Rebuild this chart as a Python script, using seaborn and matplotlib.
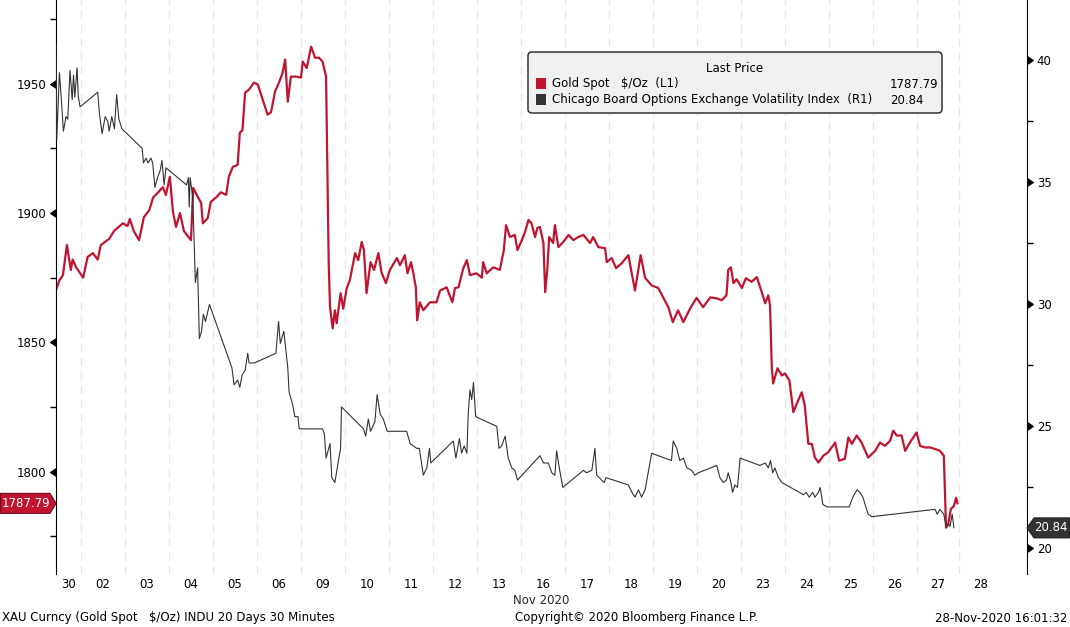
import numpy as np
import pandas as pd
import matplotlib
matplotlib.use("Agg")
import matplotlib.pyplot as plt
import matplotlib.markers as mmarkers
from matplotlib.patches import FancyBboxPatch, Polygon, Rectangle
from matplotlib.transforms import IdentityTransform
import seaborn as sns

# x axis: trading days, Nov 02 runs from 0 to 1 (Oct 30 is cut at the left edge)
day_labels = ['30', '02', '03', '04', '05', '06', '09', '10', '11', '12', '13',
              '16', '17', '18', '19', '20', '23', '24', '25', '26', '27', '28']
day_edges = [-0.57, 0, 1, 2, 3, 4, 5, 6, 7, 8, 9, 10, 11, 12, 13, 14, 15,
             16, 17, 18, 19, 19.96, 20.95]

# Gold spot $/oz (left axis)
gold_t = [-0.57, -0.49, -0.41, -0.32, -0.23, -0.19, -0.11, 0.05, 0.15, 0.27,
          0.38, 0.45, 0.64, 0.75, 0.95, 1.06, 1.11, 1.20, 1.32, 1.43,
          1.55, 1.64, 1.74, 1.86, 1.93, 2.02, 2.09, 2.16, 2.25, 2.34,
          2.50, 2.55, 2.63, 2.73, 2.77, 2.88, 2.95, 3.07, 3.18, 3.30,
          3.36, 3.45, 3.56, 3.61, 3.67, 3.73, 3.82, 3.93, 4.02, 4.13,
          4.24, 4.32, 4.41, 4.50, 4.58, 4.64, 4.70, 4.77, 4.89, 5.00,
          5.04, 5.13, 5.23, 5.32, 5.41, 5.49, 5.57, 5.63, 5.66, 5.72,
          5.77, 5.81, 5.90, 5.96, 6.04, 6.11, 6.23, 6.30, 6.38, 6.43,
          6.49, 6.58, 6.66, 6.76, 6.83, 6.93, 7.02, 7.18, 7.25, 7.36,
          7.42, 7.50, 7.55, 7.61, 7.64, 7.70, 7.78, 7.93, 8.08, 8.16,
          8.31, 8.44, 8.50, 8.58, 8.69, 8.77, 8.84, 8.99, 9.11, 9.14,
          9.22, 9.37, 9.52, 9.61, 9.66, 9.75, 9.86, 9.92, 10.02, 10.09,
          10.17, 10.24, 10.32, 10.37, 10.43, 10.51, 10.55, 10.60, 10.64, 10.73,
          10.77, 10.85, 10.96, 11.08, 11.19, 11.30, 11.42, 11.57, 11.64, 11.76,
          11.91, 11.95, 12.06, 12.16, 12.29, 12.44, 12.59, 12.72, 12.82, 12.97,
          13.12, 13.23, 13.35, 13.45, 13.57, 13.69, 13.84, 13.99, 14.14, 14.30,
          14.45, 14.56, 14.67, 14.71, 14.77, 14.83, 14.90, 15.02, 15.11, 15.24,
          15.36, 15.47, 15.55, 15.62, 15.66, 15.70, 15.73, 15.83, 15.93, 16.00,
          16.10, 16.19, 16.27, 16.38, 16.45, 16.53, 16.61, 16.68, 16.76, 16.87,
          16.98, 17.14, 17.23, 17.36, 17.44, 17.52, 17.63, 17.74, 17.89, 18.05,
          18.16, 18.27, 18.39, 18.46, 18.54, 18.65, 18.73, 18.84, 18.99, 19.07,
          19.18, 19.30, 19.41, 19.52, 19.61, 19.66, 19.71, 19.77, 19.84, 19.89,
          19.92]
gold_px = [1870.2, 1874, 1876, 1887.6, 1878, 1882, 1879, 1875, 1883, 1884.5,
           1882, 1887.6, 1890, 1893, 1896, 1895, 1897.7, 1893, 1889.5, 1898.4,
           1901, 1906, 1907.7, 1910, 1907, 1914, 1900.4, 1894.6, 1900, 1893,
           1889.5, 1909.7, 1907, 1903.9, 1896, 1898, 1904.3, 1906, 1908, 1907,
           1914, 1917.8, 1918.6, 1931, 1932, 1946.5, 1947.7, 1950.4, 1949.6, 1943.8,
           1938, 1939, 1946.9, 1950.4, 1954, 1959.3, 1943, 1952.7, 1952.7, 1952.3,
           1958.5, 1956, 1964.3, 1960, 1960, 1958.5, 1952.7, 1880.6, 1863.6, 1855.4,
           1862.4, 1857.4, 1869, 1863, 1871, 1874, 1884.5, 1881.8, 1888.8, 1885.7,
           1869, 1881, 1878, 1884.5, 1877, 1872.9, 1878, 1882.6, 1879.8, 1883.7,
           1876.7, 1881, 1877, 1871.3, 1858.5, 1865.5, 1862.4, 1865.5, 1865.5, 1870,
           1871.3, 1865.5, 1871, 1871.3, 1878.7, 1881.8, 1876, 1876.7, 1875, 1881,
           1876.7, 1879, 1878, 1885.7, 1895.3, 1890.7, 1891.5, 1885.7, 1889.5, 1892.6,
           1897.3, 1896, 1890.7, 1894.2, 1894.6, 1888.4, 1869.4, 1878.7, 1890.7, 1888.4,
           1895.3, 1886.8, 1888.8, 1891.5, 1889.5, 1890.7, 1891.5, 1888.4, 1890.7, 1886.8,
           1886.4, 1881, 1882.6, 1878.7, 1880.6, 1883.7, 1870, 1883.7, 1875, 1872,
           1871, 1867.4, 1863.6, 1857.8, 1862.4, 1857.8, 1863, 1867.2, 1863.6, 1867.4,
           1867, 1866.3, 1868.2, 1878, 1879, 1872.9, 1874.4, 1871, 1874.8, 1873.4,
           1875.2, 1869.5, 1865.1, 1868.2, 1864.3, 1840.4, 1834.1, 1840, 1837.2, 1838,
           1835.3, 1823, 1826.4, 1830.7, 1825.6, 1810.8, 1810.8, 1805.5, 1803.6, 1806.2,
           1807.5, 1811.3, 1804.3, 1805, 1813.3, 1810.8, 1814, 1811.3, 1805.5, 1808.1,
           1811.3, 1810, 1812, 1815.9, 1814, 1814, 1808.1, 1811.3, 1815.2, 1810,
           1809.4, 1809.4, 1808.8, 1808.1, 1806.2, 1778.4, 1779.8, 1785.6, 1786.8, 1790,
           1787.79]

# CBOE Volatility Index (right axis)
vix_t = [-0.57, -0.55, -0.49, -0.45, -0.40, -0.34, -0.30, -0.25, -0.20, -0.17,
         -0.14, -0.09, -0.06, -0.02, 0.38, 0.42, 0.48, 0.55, 0.61, 0.64,
         0.70, 0.76, 0.81, 0.86, 0.93, 1.39, 1.42, 1.48, 1.52, 1.59,
         1.63, 1.68, 1.74, 1.80, 1.84, 1.89, 1.93, 2.40, 2.44, 2.46,
         2.48, 2.54, 2.57, 2.60, 2.65, 2.69, 2.74, 2.78, 2.83, 2.92,
         3.43, 3.48, 3.56, 3.61, 3.66, 3.73, 3.79, 3.82, 3.94, 4.43,
         4.49, 4.53, 4.61, 4.70, 4.73, 4.81, 4.86, 4.93, 4.96, 5.49,
         5.53, 5.57, 5.66, 5.70, 5.77, 5.85, 5.90, 5.92, 6.42, 6.47,
         6.53, 6.58, 6.68, 6.73, 6.80, 6.87, 6.96, 7.40, 7.48, 7.63,
         7.69, 7.78, 7.86, 7.92, 7.95, 8.46, 8.52, 8.60, 8.65, 8.71,
         8.77, 8.80, 8.84, 8.88, 8.92, 8.97, 9.45, 9.50, 9.56, 9.64,
         9.71, 9.79, 9.86, 9.92, 10.43, 10.51, 10.62, 10.70, 10.77, 10.81,
         10.87, 10.95, 11.42, 11.49, 11.61, 11.64, 11.68, 11.72, 11.78, 11.83,
         11.89, 11.93, 12.44, 12.52, 12.59, 12.67, 12.74, 12.82, 12.89, 12.97,
         13.42, 13.46, 13.54, 13.61, 13.69, 13.77, 13.88, 13.95, 14.03, 14.45,
         14.52, 14.60, 14.67, 14.71, 14.77, 14.81, 14.86, 14.92, 14.98, 15.43,
         15.55, 15.62, 15.67, 15.72, 15.77, 15.85, 15.93, 16.42, 16.48, 16.55,
         16.63, 16.68, 16.76, 16.80, 16.86, 16.96, 17.46, 17.52, 17.57, 17.64,
         17.70, 17.77, 17.82, 17.89, 17.97, 19.41, 19.46, 19.52, 19.61, 19.66,
         19.71, 19.75, 19.80, 19.84]
vix_px = [40.7, 36.8, 39.5, 38.5, 37.1, 37.7, 37.6, 39.6, 38.4, 39.4,
          38.5, 39.7, 38.5, 38.1, 38.7, 37.8, 37.0, 37.7, 37.5, 37.1,
          37.7, 37.2, 38.6, 37.6, 37.2, 36.4, 35.8, 36.0, 35.8, 36.0,
          35.8, 34.8, 35.2, 35.5, 35.9, 34.9, 35.6, 34.9, 35.2, 34.0,
          35.2, 34.4, 32.7, 30.9, 31.5, 28.6, 28.9, 29.6, 29.3, 30.0,
          27.4, 26.7, 26.9, 26.6, 27.1, 27.3, 28.0, 27.6, 27.6, 28.0,
          29.3, 28.4, 28.9, 27.4, 26.4, 25.9, 25.4, 25.4, 24.9, 24.9,
          24.7, 23.7, 24.3, 22.9, 22.7, 23.6, 24.1, 25.8, 24.9, 24.6,
          25.3, 24.8, 25.2, 26.3, 25.5, 25.3, 24.8, 24.8, 24.3, 24.1,
          24.1, 23.0, 23.3, 24.1, 23.5, 24.4, 23.7, 24.5, 23.9, 24.2,
          23.9, 25.5, 26.5, 26.1, 26.8, 25.4, 25.0, 24.1, 24.2, 24.6,
          23.7, 23.3, 23.2, 22.8, 23.8, 23.5, 23.5, 23.1, 23.0, 24.0,
          23.3, 22.5, 23.2, 23.1, 23.2, 23.6, 24.1, 23.0, 22.9, 22.8,
          22.7, 22.9, 22.6, 22.3, 22.1, 22.4, 22.1, 22.4, 23.1, 23.9,
          23.6, 24.4, 24.1, 23.6, 23.7, 23.3, 23.2, 23.0, 23.1, 23.4,
          22.9, 22.7, 22.8, 23.1, 22.7, 22.3, 22.6, 22.5, 23.7, 23.4,
          23.5, 23.3, 23.6, 23.1, 23.3, 22.9, 22.7, 22.2, 22.3, 22.1,
          22.3, 22.1, 22.3, 22.5, 21.8, 21.7, 21.7, 22.0, 22.2, 22.4,
          22.3, 22.1, 21.8, 21.4, 21.3, 21.6, 21.4, 21.6, 21.4, 20.9,
          21.0, 20.9, 21.4, 20.84]

gold_ticks = [1800, 1850, 1900, 1950]
gold_minor = [1775, 1825, 1875, 1925, 1975]
vix_ticks = [20, 25, 30, 35, 40]
vix_minor = [22.5, 27.5, 32.5, 37.5]

gold_color = '#c0142f'
vix_color = '#333333'

sns.set_style('white')
plt.rcParams['font.family'] = ['DejaVu Sans']
FS = 8.5

W, H = 1070, 627
fig = plt.figure(figsize=(W / 100, H / 100), dpi=100)
ax = fig.add_axes([56 / W, 1 - 574 / H, (1027 - 56) / W, 574 / H])
ax2 = ax.twinx()

sns.lineplot(x=gold_t, y=gold_px, ax=ax, color=gold_color, linewidth=1.6,
             sort=False, estimator=None)
sns.lineplot(x=vix_t, y=vix_px, ax=ax2, color=vix_color, linewidth=0.8,
             sort=False, estimator=None)

ax.set_xlim(-0.568, 21.5)
ax.set_ylim(1760.5, 1982.3)
ax2.set_ylim(18.95, 42.48)

# day labels in the middle of each day, dashed grid at day boundaries
centers = [(a + b) / 2 for a, b in zip(day_edges[:-1], day_edges[1:])]
ax.set_xticks(centers)
ax.set_xticklabels(day_labels)
ax.set_xticks(day_edges[1:-1], minor=True)
ax.grid(which='minor', axis='x', color='#e6e6e6', linestyle=(0, (6, 4)), linewidth=1)
ax.grid(which='major', axis='both', visible=False)
ax.tick_params(axis='x', which='both', length=0, pad=3, labelsize=FS, labelcolor='black')
ax.set_xlabel('Nov 2020', fontsize=FS, labelpad=2)
ax2.grid(False)

for a in (ax, ax2):
    for s in a.spines.values():
        s.set_visible(False)
ax.spines['left'].set_visible(True)
ax.spines['left'].set_color('black')
ax2.spines['right'].set_visible(True)
ax2.spines['right'].set_color('black')

ax.set_yticks(gold_ticks)
ax.set_yticks(gold_minor, minor=True)
ax.tick_params(axis='y', which='major', length=6, pad=1, direction='out',
               labelsize=FS, colors='black', left=True)
ax.tick_params(axis='y', which='minor', length=4, width=1, direction='out',
               colors='black', left=True)
for t in ax.yaxis.get_major_ticks():
    t.tick1line.set_marker(mmarkers.CARETLEFTBASE)
    t.tick1line.set_markerfacecolor('black')

ax2.set_yticks(vix_ticks)
ax2.set_yticks(vix_minor, minor=True)
ax2.tick_params(axis='y', which='major', length=6, pad=1, direction='out',
                labelsize=FS, colors='black', right=True)
ax2.tick_params(axis='y', which='minor', length=4, width=1, direction='out',
                colors='black', right=True)
for t in ax2.yaxis.get_major_ticks():
    t.tick2line.set_marker(mmarkers.CARETRIGHTBASE)
    t.tick2line.set_markerfacecolor('black')
ax.set_ylabel('')
ax2.set_ylabel('')

# last value tags at both axes
yg = ax.transData.transform((0, gold_px[-1]))[1]
fig.add_artist(Polygon([(0.5, yg - 10), (50, yg - 10), (56, yg), (50, yg + 10), (0.5, yg + 10)],
                       closed=True, facecolor=gold_color, edgecolor='#6a0a18',
                       linewidth=0.8, transform=IdentityTransform()))
fig.text(26 / W, yg / H, f'{gold_px[-1]:.2f}', ha='center', va='center',
         color='white', fontsize=FS)

yv = ax2.transData.transform((0, vix_px[-1]))[1]
fig.add_artist(Polygon([(1027, yv), (1034, yv - 10), (1069.5, yv - 10), (1069.5, yv + 10), (1034, yv + 10)],
                       closed=True, facecolor=vix_color, edgecolor='#222222',
                       linewidth=0.8, transform=IdentityTransform()))
fig.text(1051 / W, yv / H, f'{vix_px[-1]:.2f}', ha='center', va='center',
         color='white', fontsize=FS)


def ftext(px, py, s, **kw):
    fig.text(px / W, 1 - py / H, s, fontsize=FS, color='black', **kw)


# legend box
fig.add_artist(FancyBboxPatch((528, H - 113), 414, 61, boxstyle='round,pad=0,rounding_size=4',
                              facecolor='#f0f0f0', edgecolor='#333333', linewidth=1.1,
                              transform=IdentityTransform()))
fig.add_artist(Rectangle((536, H - 89), 10, 11, facecolor=gold_color, edgecolor='none',
                         transform=IdentityTransform()))
fig.add_artist(Rectangle((536, H - 105), 10, 11, facecolor=vix_color, edgecolor='none',
                         transform=IdentityTransform()))
ftext(735, 68, 'Last Price', ha='center', va='center')
ftext(552, 84, 'Gold Spot   $/Oz  (L1)', ha='left', va='center')
ftext(890, 84, f'{gold_px[-1]:.2f}', ha='left', va='center')
ftext(552, 100, 'Chicago Board Options Exchange Volatility Index  (R1)', ha='left', va='center')
ftext(890, 100, f'{vix_px[-1]:.2f}', ha='left', va='center')

# footer
ftext(2, 618, 'XAU Curncy (Gold Spot   $/Oz) INDU 20 Days 30 Minutes', ha='left', va='center')
ftext(636, 618, 'Copyright\u00a9 2020 Bloomberg Finance L.P.', ha='center', va='center')
ftext(1067, 618, '28-Nov-2020 16:01:32', ha='right', va='center')

fig.savefig('out.png', dpi=100)
